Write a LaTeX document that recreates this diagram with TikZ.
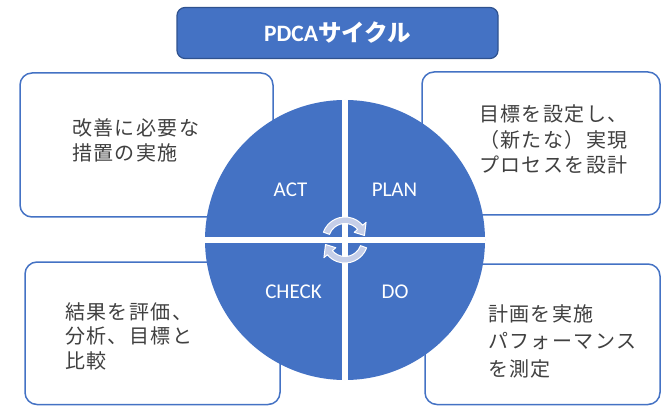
\documentclass[tikz,border=0pt]{standalone}
\usepackage{fontspec}
\setmainfont{Carlito}
\newfontfamily\lat{Carlito}
\newfontfamily\jp[LetterSpace=7]{Noto Sans CJK JP}
\newfontfamily\jpt{Noto Sans CJK JP}
\usetikzlibrary{calc}
\definecolor{pblue}{HTML}{4472C4}
\definecolor{tborder}{HTML}{2F528F}
\definecolor{txtgray}{HTML}{404040}
\definecolor{arrowfill}{HTML}{C5CEE8}
\begin{document}
\begin{tikzpicture}[x=1pt,y=-1pt,
  box/.style={draw=pblue, line width=1.5pt, rounded corners=12pt, fill=white, inner sep=0},
  desc/.style={anchor=base west, inner sep=0, align=left, text=txtgray},
  qlabel/.style={text=white, font=\lat\fontsize{21}{24}\selectfont, inner sep=0},
  cyc/.style={fill=arrowfill, draw=white, line width=1pt, line join=round}]
\useasboundingbox (0,0) rectangle (661,406);
% title
\node[draw=tborder, fill=pblue, rounded corners=8pt, line width=1.2pt,
      minimum width=321pt, minimum height=51pt, inner sep=0,
      text=white, font=\bfseries\fontsize{23.5}{26}\selectfont] (title) at (337.5,33)
  {{\lat PDCA}{\jpt サイクル}};
% boxes
\node[box, minimum width=253pt, minimum height=144pt] (actbox) at (146.5,145) {};
\node[box, minimum width=238pt, minimum height=143pt] (planbox) at (541,143.5) {};
\node[box, minimum width=255pt, minimum height=142.5pt] (checkbox) at (152.5,333.25) {};
\node[box, minimum width=235pt, minimum height=140.5pt] (dobox) at (542.5,334.25) {};
% texts (anchor at baseline of last line)
\node[desc, font=\jp\fontsize{20}{25}\selectfont] (acttext) at (72,161)
  {改善に必要な\\措置の実施};
\node[desc, font=\jp\fontsize{20}{25.5}\selectfont] (plantext) at (479,173)
  {目標を設定し、\\（新たな）実現\\プロセスを設計};
\node[desc, font=\jp\fontsize{20}{24.5}\selectfont] (checktext) at (65,368)
  {結果を評価、\\分析、目標と\\比較};
\node[desc, font=\jp\fontsize{20}{27.5}\selectfont] (dotext) at (488,376)
  {計画を実施\\パフォーマンス\\を測定};
% circle
\coordinate (ctr) at (345,240);
\fill[pblue] (ctr) circle[radius=140];
\draw[white, line width=6.5pt] (205,240) -- (485,240);
\draw[white, line width=6pt] (345,100) -- (345,380);
% quadrant labels
\node[qlabel] (act) at (290.5,190) {ACT};
\node[qlabel] (plan) at (394.5,190) {PLAN};
\node[qlabel] (check) at (293.5,292) {CHECK};
\node[qlabel] (do) at (395,292) {DO};
% circular arrows
\path[cyc] ($(ctr)+(200:23)$) arc[start angle=200, end angle=320, radius=23]
  -- ($(ctr)+(320:27.5)$) -- ($(ctr)+(347:20)$) -- ($(ctr)+(320:12)$)
  -- ($(ctr)+(320:16.5)$) arc[start angle=320, end angle=200, radius=16.5] -- cycle;
\path[cyc] ($(ctr)+(20:23)$) arc[start angle=20, end angle=140, radius=23]
  -- ($(ctr)+(140:27.5)$) -- ($(ctr)+(167:20)$) -- ($(ctr)+(140:12)$)
  -- ($(ctr)+(140:16.5)$) arc[start angle=140, end angle=20, radius=16.5] -- cycle;
\end{tikzpicture}
\end{document}
